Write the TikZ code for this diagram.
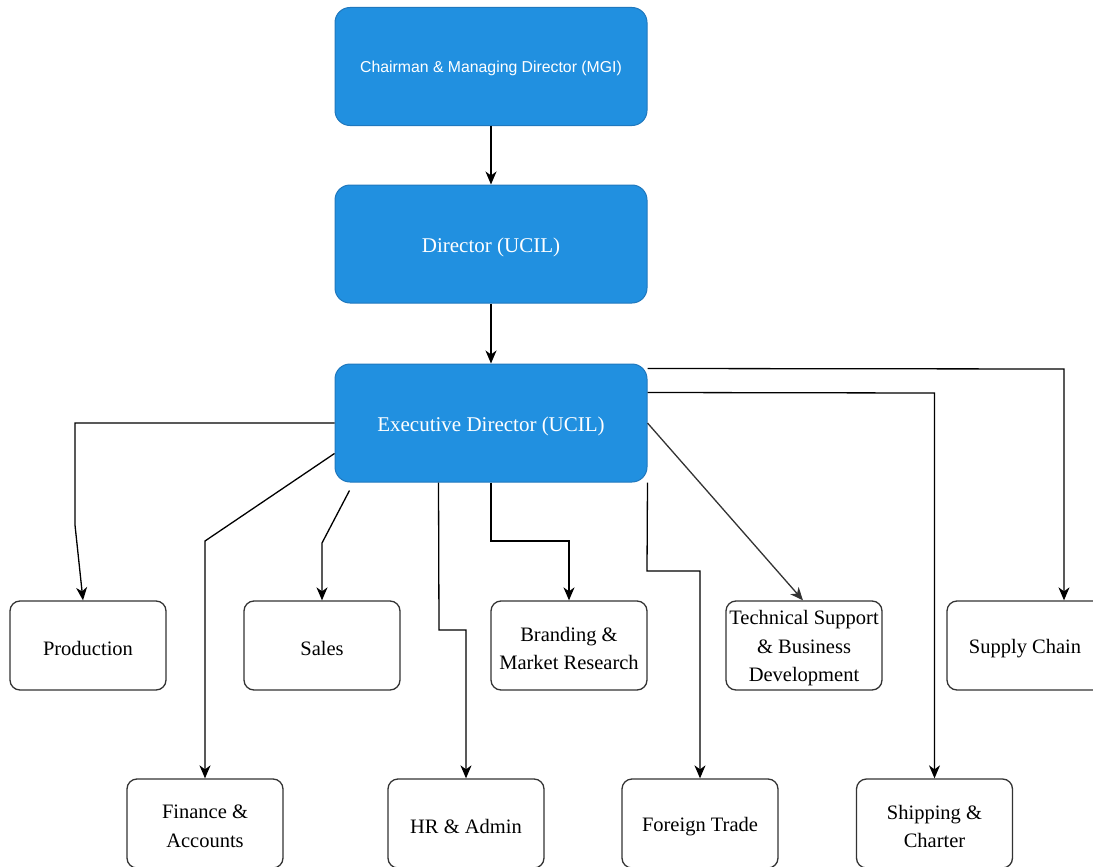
\documentclass[tikz,border=0pt]{standalone}
\usepackage{fontspec}
\setmainfont{Liberation Serif}
\newfontfamily\boxsans{Liberation Sans}
\usetikzlibrary{arrows.meta,calc}
\definecolor{bluefill}{HTML}{2190E0}
\definecolor{blueline}{HTML}{1F78BE}
\definecolor{lineg}{HTML}{333333}
\tikzset{
  bluebox/.style={draw=blueline, line width=1pt, fill=bluefill, rounded corners=15pt,
    minimum width=312pt, minimum height=118pt, inner sep=0pt},
  bluetext/.style={text=white, inner sep=0pt, yshift=-3.5pt, font=\fontsize{21}{28}\selectfont},
  deptbox/.style={draw=lineg, line width=1.3pt, fill=white, rounded corners=10pt,
    minimum width=156pt, minimum height=89pt, inner sep=0pt},
  depttext/.style={inner sep=0pt, yshift=-3pt, align=center,
    font=\fontsize{20.5}{28.5}\selectfont},
  arr/.style={draw=black, line width=1.3pt, -{Stealth[length=13pt,width=11pt,inset=4pt]}}
}
\begin{document}
\begin{tikzpicture}[x=1pt,y=-1pt]
\useasboundingbox (0,0) rectangle (1093,867);
\node[bluebox, label={[bluetext, yshift=1.5pt, font=\boxsans\fontsize{15.8}{18}\selectfont]center:Chairman \& Managing Director (MGI)}] (top) at (491,66.5) {};
\node[bluebox, label={[bluetext]center:Director (UCIL)}] (dir) at (491,244) {};
\node[bluebox, label={[bluetext]center:Executive Director (UCIL)}] (exec) at (491,423) {};

\node[deptbox, label={[depttext]center:Production}] (prod) at (88,645.5) {};
\node[deptbox, label={[depttext]center:Sales}] (sales) at (322,645.5) {};
\node[deptbox, label={[depttext]center:Branding \&\\Market Research}] (brand) at (569,645.5) {};
\node[deptbox, label={[depttext]center:Technical Support\\\& Business\\Development}] (tech) at (804,645.5) {};
\node[deptbox, label={[depttext]center:Supply Chain}] (supply) at (1025,645.5) {};

\node[deptbox, label={[depttext]center:Finance \&\\Accounts}] (fin) at (205,823.5) {};
\node[deptbox, label={[depttext]center:HR \& Admin}] (hr) at (466,823.5) {};
\node[deptbox, label={[depttext]center:Foreign Trade}] (ft) at (700,823.5) {};
\node[deptbox, label={[depttext]center:Shipping \&\\Charter}] (ship) at (934.5,823.5) {};

\draw[arr] (top) -- (dir);
\draw[arr] (dir) -- (exec);

\draw[arr] (exec.west) -- (75,423) -- (75,525) -- ($(prod.north)+(-5,0)$);
\draw[arr] ($(exec.south west)+(0,-29)$) -- (205,541) -- (fin.north);
\coordinate (salesstart) at ($(exec.south west)+(15,8)$);
\draw[arr] (salesstart) -- (322,543) -- (sales.north);
\draw[arr] ($(exec.south west)+(104,0)$) -- (439,630) -- (466,630) -- (hr.north);
\draw[arr] (exec.south) -- (491,541) -- (569,541) -- (brand.north);
\draw[arr] (exec.south east) -- (647,571) -- (700,571) -- (ft.north);
\draw[arr, draw=lineg] (exec.east) -- ($(tech.north)+(-1,0)$);
\draw[arr] ($(exec.north east)+(0,29)$) -- (934.5,393) -- (ship.north);
\draw[arr] ($(exec.north east)+(0,5)$) -- (1064,369) -- ($(supply.north)+(39,0)$);
\end{tikzpicture}
\end{document}
